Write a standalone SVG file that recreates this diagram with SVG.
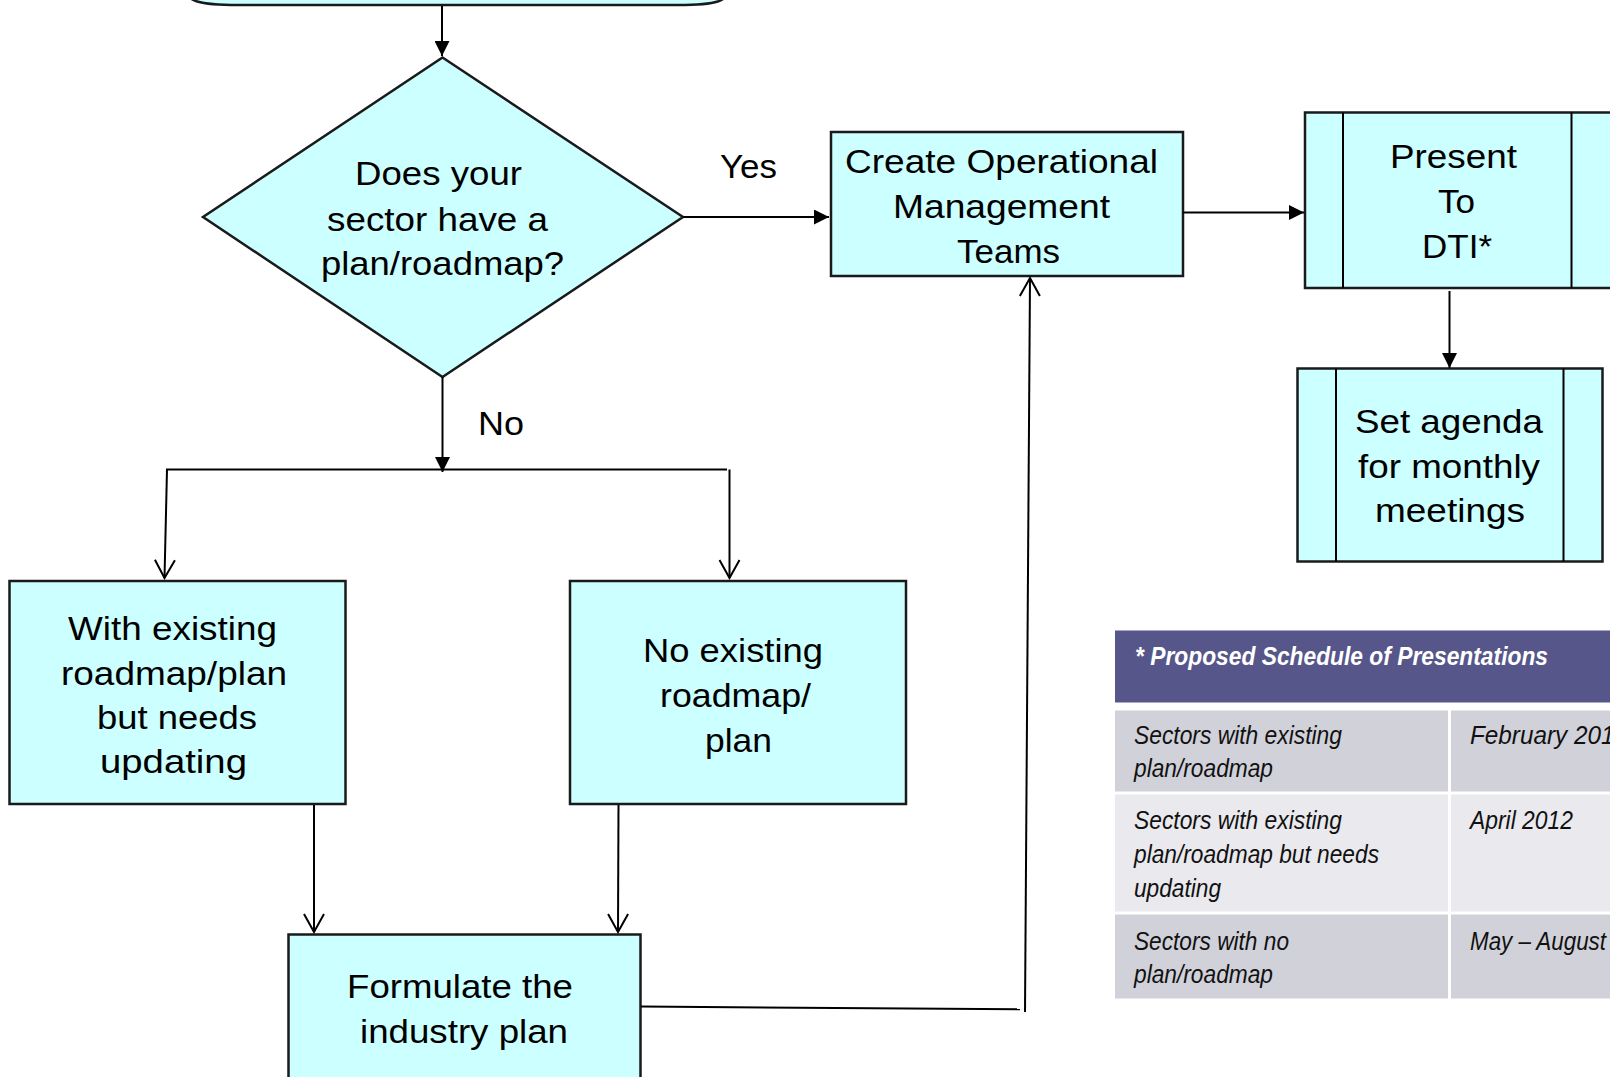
<svg xmlns="http://www.w3.org/2000/svg" width="1610" height="1077" viewBox="0 0 1610 1077">
<defs>
<style>
.box{fill:#CCFFFF;stroke:#1a1a1a;stroke-width:2.5}
.ln{fill:none;stroke:#000;stroke-width:2}
.t{font-family:"Liberation Sans",Arial,sans-serif;font-size:34px;fill:#000}
.tt{font-family:"Liberation Sans",Arial,sans-serif;font-size:25px;font-style:italic;fill:#111}
.th{font-family:"Liberation Sans",Arial,sans-serif;font-size:25px;font-style:italic;font-weight:bold;fill:#fff}
</style>
<marker id="af" viewBox="0 0 16 16" refX="16" refY="8" markerWidth="15" markerHeight="15" markerUnits="userSpaceOnUse" orient="auto">
<path d="M0,0 L16,8 L0,16 z" fill="#000"/>
</marker>
<marker id="ao" viewBox="-2 -2 22 24" refX="18" refY="10" markerWidth="22" markerHeight="24" markerUnits="userSpaceOnUse" orient="auto">
<path d="M0,0 L18,10 L0,20" fill="none" stroke="#000" stroke-width="2"/>
</marker>
</defs>
<rect width="1610" height="1077" fill="#fff"/>

<g id="start">
<path class="box" d="M 182,-14 C 186,2 200,5 238,5 L 678,5 C 716,5 728,2 732,-14 Z"/>
</g>

<g id="decision">
<polygon class="box" points="442.5,57.5 683,217 442.5,377 203,217"/>
<text class="t" x="355" y="185" textLength="167" lengthAdjust="spacingAndGlyphs">Does your</text>
<text class="t" x="327" y="230.5" textLength="221" lengthAdjust="spacingAndGlyphs">sector have a</text>
<text class="t" x="321" y="275" textLength="243" lengthAdjust="spacingAndGlyphs">plan/roadmap?</text>
</g>

<g id="create">
<rect class="box" x="831" y="132" width="352" height="144"/>
<text class="t" x="845" y="172.5" textLength="313" lengthAdjust="spacingAndGlyphs">Create Operational</text>
<text class="t" x="893" y="218" textLength="217" lengthAdjust="spacingAndGlyphs">Management</text>
<text class="t" x="957" y="262.5" textLength="103" lengthAdjust="spacingAndGlyphs">Teams</text>
</g>

<g id="present">
<rect class="box" x="1305" y="112.5" width="330" height="175.5"/>
<line class="ln" x1="1343" y1="112.5" x2="1343" y2="288" stroke-width="2.5"/>
<line class="ln" x1="1571.5" y1="112.5" x2="1571.5" y2="288" stroke-width="2.5"/>
<text class="t" x="1390" y="168.3" textLength="127" lengthAdjust="spacingAndGlyphs">Present</text>
<text class="t" x="1438" y="213.3" textLength="37" lengthAdjust="spacingAndGlyphs">To</text>
<text class="t" x="1422" y="258.3" textLength="70" lengthAdjust="spacingAndGlyphs">DTI*</text>
</g>

<g id="agenda">
<rect class="box" x="1297.5" y="368.5" width="305" height="193"/>
<line class="ln" x1="1336" y1="368.5" x2="1336" y2="561.5" stroke-width="2.5"/>
<line class="ln" x1="1563.5" y1="368.5" x2="1563.5" y2="561.5" stroke-width="2.5"/>
<text class="t" x="1355" y="433.3" textLength="188" lengthAdjust="spacingAndGlyphs">Set agenda</text>
<text class="t" x="1358" y="478.3" textLength="182" lengthAdjust="spacingAndGlyphs">for monthly</text>
<text class="t" x="1375" y="521.7" textLength="150" lengthAdjust="spacingAndGlyphs">meetings</text>
</g>

<g id="with-existing">
<rect class="box" x="9.5" y="581" width="336" height="223"/>
<text class="t" x="68" y="640" textLength="209" lengthAdjust="spacingAndGlyphs">With existing</text>
<text class="t" x="61" y="685" textLength="226" lengthAdjust="spacingAndGlyphs">roadmap/plan</text>
<text class="t" x="97" y="729.3" textLength="160" lengthAdjust="spacingAndGlyphs">but needs</text>
<text class="t" x="100" y="773.3" textLength="147" lengthAdjust="spacingAndGlyphs">updating</text>
</g>

<g id="no-existing">
<rect class="box" x="570" y="581" width="336" height="223"/>
<text class="t" x="643" y="661.7" textLength="180" lengthAdjust="spacingAndGlyphs">No existing</text>
<text class="t" x="660" y="706.7" textLength="151" lengthAdjust="spacingAndGlyphs">roadmap/</text>
<text class="t" x="705" y="751.7" textLength="67" lengthAdjust="spacingAndGlyphs">plan</text>
</g>

<g id="formulate">
<rect class="box" x="288.5" y="934.5" width="352" height="160"/>
<text class="t" x="347" y="997.7" textLength="226" lengthAdjust="spacingAndGlyphs">Formulate the</text>
<text class="t" x="360" y="1042.7" textLength="208" lengthAdjust="spacingAndGlyphs">industry plan</text>
</g>

<g id="connectors">
<line class="ln" x1="442" y1="6" x2="442" y2="56" marker-end="url(#af)"/>
<line class="ln" x1="683" y1="217" x2="829" y2="217" marker-end="url(#af)"/>
<line class="ln" x1="1183" y1="212.5" x2="1304" y2="212.5" marker-end="url(#af)"/>
<line class="ln" x1="1449.5" y1="291" x2="1449.5" y2="368" marker-end="url(#af)"/>
<line class="ln" x1="442.5" y1="377" x2="442.5" y2="472" marker-end="url(#af)"/>
<line class="ln" x1="166" y1="469.5" x2="727" y2="469.5" stroke-width="2.5"/>
<line class="ln" x1="167" y1="469.5" x2="164.5" y2="578" marker-end="url(#ao)"/>
<line class="ln" x1="729.5" y1="469.5" x2="729.5" y2="578" marker-end="url(#ao)"/>
<line class="ln" x1="314" y1="805" x2="314" y2="932" marker-end="url(#ao)"/>
<line class="ln" x1="618.5" y1="805" x2="618" y2="932" marker-end="url(#ao)"/>
<polyline class="ln" points="641,1006.5 1020,1009.3"/>
<line class="ln" x1="1025" y1="1012" x2="1030" y2="278" marker-end="url(#ao)"/>
<text class="t" x="720" y="178.3" textLength="57" lengthAdjust="spacingAndGlyphs">Yes</text>
<text class="t" x="478" y="435" textLength="46" lengthAdjust="spacingAndGlyphs">No</text>
</g>

<g id="schedule-table">
<rect x="1115" y="630.5" width="500" height="72" fill="#56568A"/>
<text class="th" x="1135" y="665" textLength="413" lengthAdjust="spacingAndGlyphs">* Proposed Schedule of Presentations</text>
<rect x="1115" y="710.5" width="333" height="81" fill="#D1D1DA"/>
<rect x="1451" y="710.5" width="164" height="81" fill="#D1D1DA"/>
<rect x="1115" y="794.5" width="333" height="117" fill="#E9E9EE"/>
<rect x="1451" y="794.5" width="164" height="117" fill="#E9E9EE"/>
<rect x="1115" y="914.5" width="333" height="84" fill="#D1D1DA"/>
<rect x="1451" y="914.5" width="164" height="84" fill="#D1D1DA"/>
<text class="tt" x="1134" y="744" textLength="208" lengthAdjust="spacingAndGlyphs">Sectors with existing</text>
<text class="tt" x="1134" y="776.7" textLength="139" lengthAdjust="spacingAndGlyphs">plan/roadmap</text>
<text class="tt" x="1470" y="744" textLength="158" lengthAdjust="spacingAndGlyphs">February 2012</text>
<text class="tt" x="1134" y="829.3" textLength="208" lengthAdjust="spacingAndGlyphs">Sectors with existing</text>
<text class="tt" x="1134" y="863.3" textLength="245" lengthAdjust="spacingAndGlyphs">plan/roadmap but needs</text>
<text class="tt" x="1134" y="896.7" textLength="87" lengthAdjust="spacingAndGlyphs">updating</text>
<text class="tt" x="1470" y="829.3" textLength="103" lengthAdjust="spacingAndGlyphs">April 2012</text>
<text class="tt" x="1134" y="950" textLength="155" lengthAdjust="spacingAndGlyphs">Sectors with no</text>
<text class="tt" x="1134" y="982.7" textLength="139" lengthAdjust="spacingAndGlyphs">plan/roadmap</text>
<text class="tt" x="1470" y="950" textLength="136" lengthAdjust="spacingAndGlyphs">May – August</text>
</g>
</svg>
